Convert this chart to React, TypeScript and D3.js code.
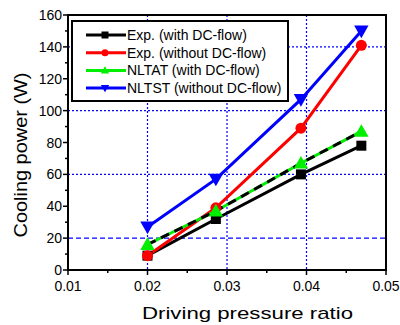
import React from "react";
import * as d3 from "d3";

const xVals = [0.0200, 0.0286, 0.0393, 0.0469];
const expWith = [9, 32, 60, 78];
const expWithout = [9, 39, 89, 141];
const nltat = [16, 37, 67, 87];
const nltst = [27, 57, 107, 150];
const xTicks = [0.01, 0.02, 0.03, 0.04, 0.05];
const yTicks = [0, 20, 40, 60, 80, 100, 120, 140, 160];
const gridX = [0.02, 0.03, 0.04];
const gridY = [20, 60, 100, 140];
const legendLabels = ["Exp. (with DC-flow)", "Exp. (without DC-flow)", "NLTAT (with DC-flow)", "NLTST (without DC-flow)"];

const W = 400, H = 325;
const L = 68, R = 386, T = 15, B = 270;

export default function App() {
  const x = d3.scaleLinear().domain([0.01, 0.05]).range([L, R]);
  const y = d3.scaleLinear().domain([0, 160]).range([B, T]);
  const line = d3.line<number>().x((_, i) => x(xVals[i])).y((v) => y(v));
  const series = [
    { data: expWith, color: "#000000", marker: "square" },
    { data: expWithout, color: "#ff0000", marker: "circle" },
    { data: nltat, color: "#00ee00", marker: "up" },
    { data: nltst, color: "#0000ff", marker: "down" },
  ];
  const marker = (type: string, cx: number, cy: number, color: string, s: number) => {
    if (type === "square") return <rect x={cx - s / 2} y={cy - s / 2} width={s} height={s} fill={color} />;
    if (type === "circle") return <circle cx={cx} cy={cy} r={s / 2 + 0.5} fill={color} />;
    if (type === "up") return <path d={`M${cx},${cy - s * 0.6}L${cx + s * 0.6},${cy + s * 0.45}L${cx - s * 0.6},${cy + s * 0.45}Z`} fill={color} />;
    return <path d={`M${cx},${cy + s * 0.6}L${cx + s * 0.6},${cy - s * 0.45}L${cx - s * 0.6},${cy - s * 0.45}Z`} fill={color} />;
  };
  const minorX = d3.range(0.015, 0.05, 0.01);
  const minorY = d3.range(10, 160, 20);
  const font = "Liberation Sans, Arial, sans-serif";
  return (
    <svg width={W} height={H} style={{ position: "absolute", left: 0, top: 0 }} fontFamily={font}>
      <rect width={W} height={H} fill="#fff" />
      {gridX.map((g) => (
        <line key={"gx" + g} x1={x(g)} x2={x(g)} y1={T} y2={B} stroke="#0000ff" strokeWidth={1.2} strokeDasharray="2,2" />
      ))}
      {gridY.map((g) => (
        <line key={"gy" + g} x1={L} x2={R} y1={y(g)} y2={y(g)} stroke="#0000ff" strokeWidth={1.2} strokeDasharray={g === 20 ? "5,3" : "2,2"} />
      ))}
      {yTicks.map((t) => (
        <g key={"yt" + t}>
          <line x1={L - 5} x2={L} y1={y(t)} y2={y(t)} stroke="#000" strokeWidth={1.5} />
          <text x={L - 6} y={y(t) + 5} textAnchor="end" fontSize={14}>{t}</text>
        </g>
      ))}
      {minorY.map((t) => (
        <line key={"ym" + t} x1={L - 3} x2={L} y1={y(t)} y2={y(t)} stroke="#000" strokeWidth={1.5} />
      ))}
      {xTicks.map((t) => (
        <g key={"xt" + t}>
          <line x1={x(t)} x2={x(t)} y1={B} y2={B + 5} stroke="#000" strokeWidth={1.5} />
          <text x={x(t)} y={B + 21} textAnchor="middle" fontSize={14}>{t.toFixed(2)}</text>
        </g>
      ))}
      {minorX.map((t) => (
        <line key={"xm" + t} x1={x(t)} x2={x(t)} y1={B} y2={B + 3} stroke="#000" strokeWidth={1.5} />
      ))}
      {series.map((s, k) => (
        <path key={"l" + k} d={line(s.data) || ""} fill="none" stroke={s.color} strokeWidth={3} />
      ))}
      <path d={line(nltat) || ""} fill="none" stroke="#000" strokeWidth={3} strokeDasharray="9,6" />
      {series.map((s, k) => (
        <g key={"m" + k}>
          {s.data.map((v, i) => (
            <g key={i}>{marker(s.marker, x(xVals[i]), y(v), s.color, s.marker === "square" ? 10 : s.marker === "circle" ? 10 : 12)}</g>
          ))}
        </g>
      ))}
      <rect x={L} y={T} width={R - L} height={B - T} fill="none" stroke="#000" strokeWidth={2} />
      <rect x={72} y={21} width={216} height={80} fill="#fff" stroke="#000" strokeWidth={2} />
      {series.map((s, k) => {
        const ly = 35 + k * 17.7;
        return (
          <g key={"lg" + k}>
            <line x1={86} x2={126} y1={ly} y2={ly} stroke={s.color} strokeWidth={3} />
            {marker(s.marker, 105, ly, s.color, s.marker === "circle" ? 6 : 7)}
            <text x={127} y={ly + 5} fontSize={14}>{legendLabels[k]}</text>
          </g>
        );
      })}
      <text x={142} y={319} fontSize={17} textLength={211} lengthAdjust="spacingAndGlyphs">Driving pressure ratio</text>
      <text transform={`translate(27,155) rotate(-90)`} textAnchor="middle" fontSize={19} textLength={165} lengthAdjust="spacingAndGlyphs">Cooling power (W)</text>
    </svg>
  );
}
